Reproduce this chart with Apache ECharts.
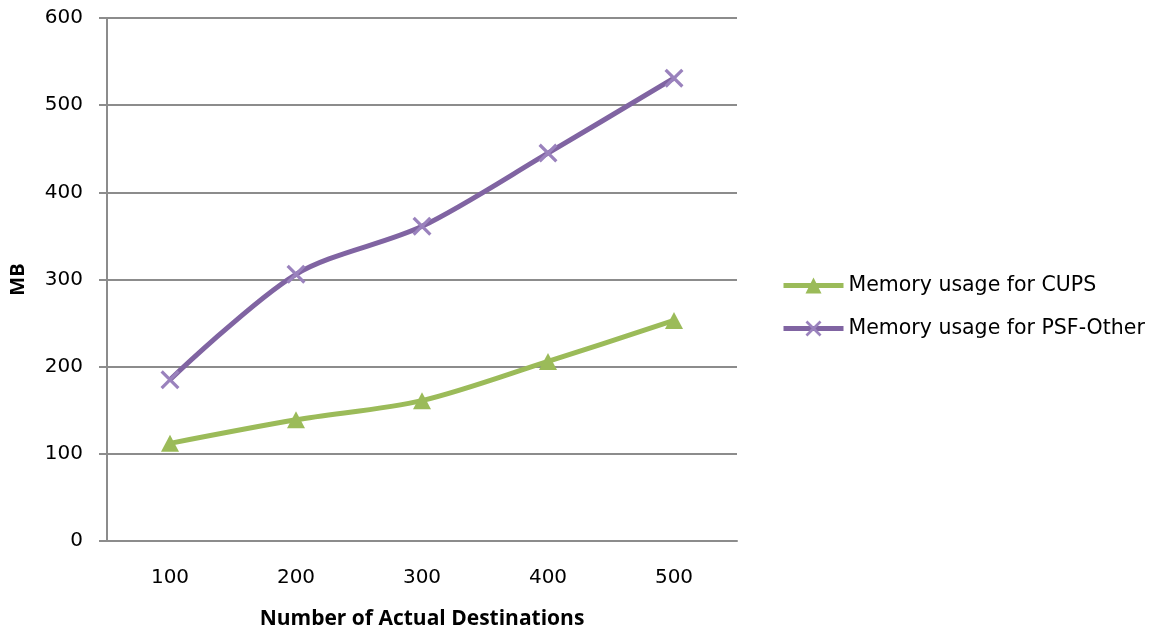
<!DOCTYPE html>
<html><head><meta charset="utf-8">
<script src="https://cdn.jsdelivr.net/npm/echarts@6/dist/echarts.min.js"></script>
<style>html,body{margin:0;padding:0;background:#fff}#c{width:1169px;height:635px}</style>
</head><body><div id="c"></div>
<script>
const categories = ['100','200','300','400','500'];
const cupsValues = [112, 139, 161, 206, 253];
const psfValues = [185, 306, 361, 445, 531];
const seriesNames = ['Memory usage for CUPS', 'Memory usage for PSF-Other'];
const xTitle = 'Number of Actual Destinations';
const yTitle = 'MB';

const font = 'DejaVu Sans, sans-serif';
const titleFont = 'Open Sans, Noto Sans, sans-serif';
const axisGray = '#8c8c8c';
const xPath = 'path://M0,1.2 L1.2,0 L10,8.8 L8.8,10 Z M8.8,0 L10,1.2 L1.2,10 L0,8.8 Z';
const chart = echarts.init(document.getElementById('c'));
chart.setOption({
  animation: false,
  grid: {left: 106, right: 432, top: 18, bottom: 92},
  legend: {
    orient: 'vertical', left: 776, top: 270, itemGap: 22, itemWidth: 60, itemHeight: 20,
    textStyle: {fontFamily: font, fontSize: 20.5, color: '#000'},
    lineStyle: {width: 5},
    data: seriesNames
  },
  xAxis: {
    type: 'category', data: categories, boundaryGap: true,
    name: xTitle, nameLocation: 'middle', nameGap: 68,
    nameTextStyle: {fontFamily: titleFont, fontSize: 21, fontWeight: 'bold', color: '#000'},
    axisLine: {lineStyle: {color: axisGray, width: 2}},
    axisTick: {alignWithLabel: true, length: 8, lineStyle: {color: axisGray, width: 2}},
    axisLabel: {fontFamily: font, fontSize: 20, color: '#000', margin: 27}
  },
  yAxis: {
    type: 'value', min: 0, max: 600, interval: 100,
    name: yTitle, nameLocation: 'middle', nameGap: 79, nameRotate: 90,
    nameTextStyle: {fontFamily: titleFont, fontSize: 20, fontWeight: 'bold', color: '#000'},
    axisLine: {show: true, lineStyle: {color: axisGray, width: 2}},
    axisTick: {show: true, length: 8, lineStyle: {color: axisGray, width: 2}},
    axisLabel: {fontFamily: font, fontSize: 20, color: '#000', margin: 24},
    splitLine: {lineStyle: {color: axisGray, width: 2}}
  },
  series: [
    {name: seriesNames[0], type: 'line', data: cupsValues, smooth: 0.3,
     symbol: 'triangle', symbolSize: [18, 17],
     lineStyle: {color: '#9bbb59', width: 5}, itemStyle: {color: '#9bbb59'}},
    {name: seriesNames[1], type: 'line', data: psfValues, smooth: 0.3,
     symbol: xPath, symbolSize: 19,
     lineStyle: {color: '#8064a2', width: 5}, itemStyle: {color: '#9a82bd'}}
  ]
});
</script></body></html>
